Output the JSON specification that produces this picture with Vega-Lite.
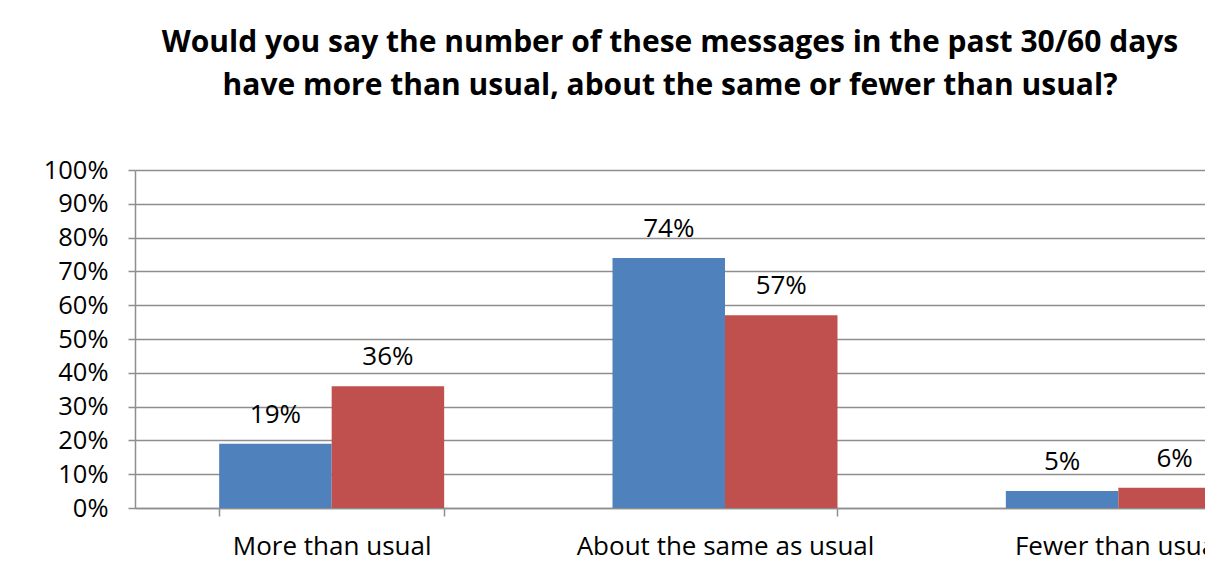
{
  "$schema": "https://vega.github.io/schema/vega-lite/v6.json",
  "autosize": {"type": "none"},
  "width": 1070,
  "height": 338,
  "padding": {"left": 135, "top": 170, "right": 0, "bottom": 74},
  "background": "white",
  "title": {
    "text": ["Would you say the number of these messages in the past 30/60 days", "have more than usual, about the same or fewer than usual?"],
    "font": "Open Sans",
    "fontSize": 30,
    "fontWeight": "bold",
    "color": "black",
    "lineHeight": 43,
    "anchor": "middle",
    "offset": 57
  },
  "config": {
    "view": {"stroke": null},
    "font": "Open Sans"
  },
  "data": {
    "values": [
      {"category": "More than usual", "series": "Series1", "value": 0.19},
      {"category": "More than usual", "series": "Series2", "value": 0.36},
      {"category": "About the same as usual", "series": "Series1", "value": 0.74},
      {"category": "About the same as usual", "series": "Series2", "value": 0.57},
      {"category": "Fewer than usual", "series": "Series1", "value": 0.05},
      {"category": "Fewer than usual", "series": "Series2", "value": 0.06}
    ]
  },
  "encoding": {
    "x": {
      "field": "category",
      "type": "nominal",
      "sort": null,
      "scale": {"range": [0, 1180], "paddingInner": 0.428, "paddingOuter": 0.214},
      "axis": {
        "title": null,
        "labelAngle": 0,
        "labelFont": "Open Sans",
        "labelFontSize": 26,
        "labelColor": "black",
        "labelPadding": 17,
        "labelLimit": 0,
        "labelOverlap": false,
        "tickBand": "extent",
        "tickSize": 8,
        "tickColor": "#8E8E8E",
        "tickWidth": 1.5,
        "domainColor": "#8E8E8E",
        "domainWidth": 1.5,
        "grid": false
      }
    },
    "xOffset": {"field": "series", "type": "nominal", "scale": {"paddingInner": 0, "paddingOuter": 0}},
    "y": {
      "field": "value",
      "type": "quantitative",
      "scale": {"domain": [0, 1]},
      "axis": {
        "title": null,
        "format": ".0%",
        "values": [0, 0.1, 0.2, 0.3, 0.4, 0.5, 0.6, 0.7, 0.8, 0.9, 1],
        "labelFont": "Open Sans",
        "labelFontSize": 25.5,
        "labelColor": "black",
        "labelPadding": 20,
        "tickSize": 7,
        "tickColor": "#8E8E8E",
        "tickWidth": 1.5,
        "domainColor": "#8E8E8E",
        "domainWidth": 1.5,
        "gridColor": "#8E8E8E",
        "gridWidth": 1.5
      }
    }
  },
  "layer": [
    {
      "mark": {"type": "bar"},
      "encoding": {
        "color": {
          "field": "series",
          "type": "nominal",
          "scale": {"domain": ["Series1", "Series2"], "range": ["#4F81BD", "#C0504D"]},
          "legend": null
        }
      }
    },
    {
      "mark": {"type": "text", "font": "Open Sans", "fontSize": 26, "color": "black", "baseline": "alphabetic", "dy": -21},
      "encoding": {
        "text": {"field": "value", "type": "quantitative", "format": ".0%"}
      }
    }
  ]
}
